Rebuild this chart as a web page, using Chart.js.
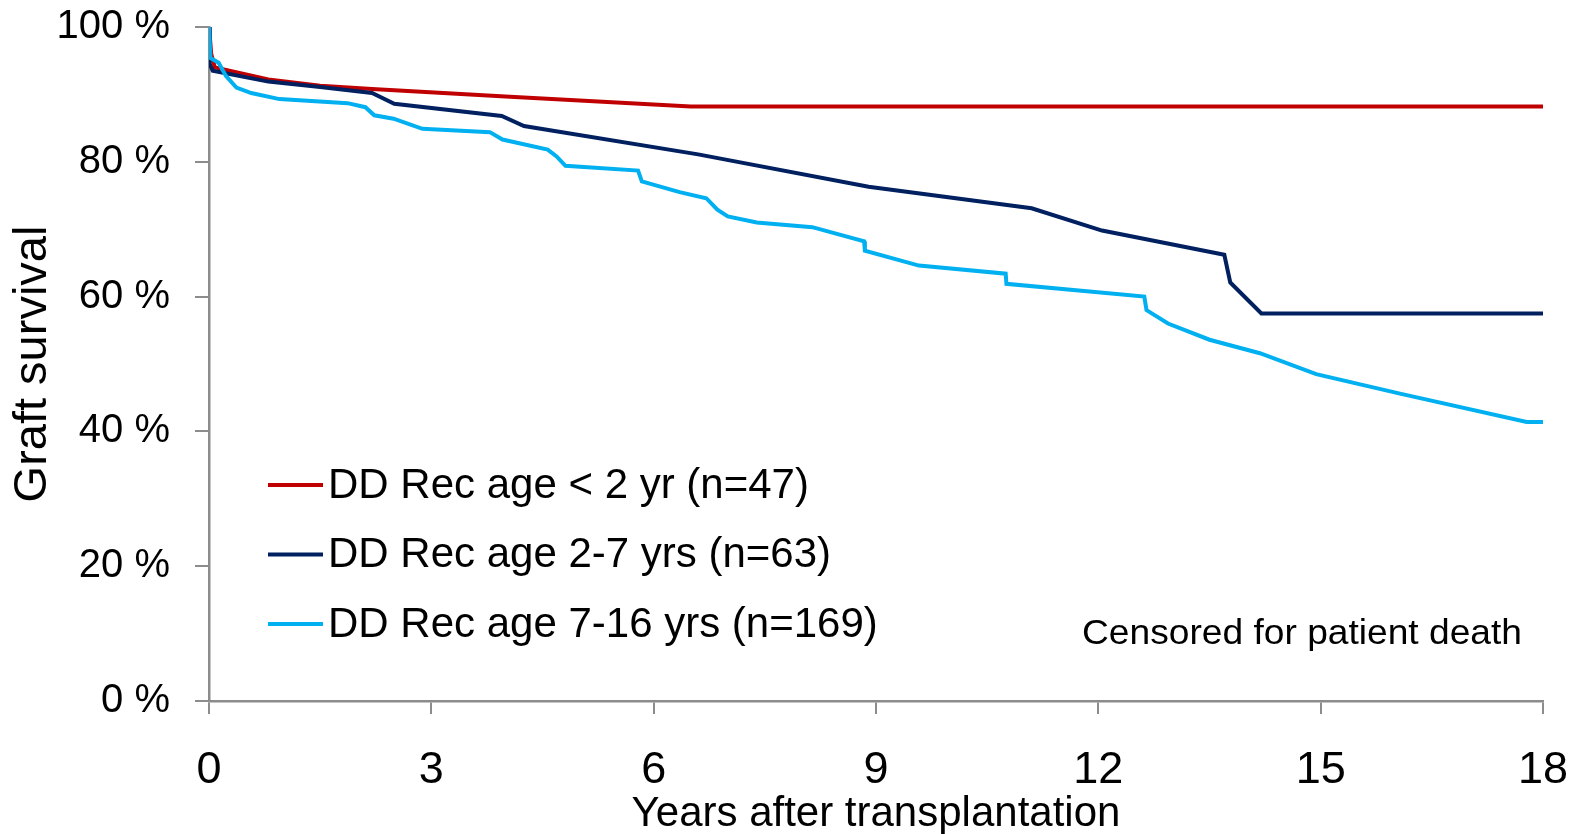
<!DOCTYPE html>
<html>
<head>
<meta charset="utf-8">
<script src="https://cdn.jsdelivr.net/npm/chart.js@4.4.1/dist/chart.umd.min.js"></script>
<style>
html, body { margin: 0; padding: 0; background: #fff; }
#wrap { width: 1580px; height: 834px; position: relative; }
</style>
</head>
<body>
<div id="wrap"><canvas id="graph"></canvas></div>
<script>
// Series names and colours
var seriesLabels = ['DD Rec age < 2 yr (n=47)', 'DD Rec age 2-7 yrs (n=63)', 'DD Rec age 7-16 yrs (n=169)'];
var seriesColors = ['#C00000', '#002060', '#00B0F0'];
var noteText = 'Censored for patient death';
// Tick values
var xTicks = [0, 3, 6, 9, 12, 15, 18];
var yTicks = [0, 20, 40, 60, 80, 100];
// Recipient age < 2 yr: years after transplantation / graft survival %
var under2Years = [0, 0.03, 0.08, 0.8, 1.5, 2.2, 4.0, 6.5, 18];
var under2Survival = [100, 96, 94.0, 92.2, 91.3, 90.8, 89.7, 88.2, 88.2];
// Recipient age 2-7 yrs
var age2to7Years = [0, 0.01, 0.05, 0.8, 1.5, 2.2, 2.5, 3.95, 4.25, 6.6, 8.9, 11.1, 12.05, 13.7, 13.78, 14.2, 18];
var age2to7Survival = [100, 94.5, 93.5, 91.9, 91.1, 90.2, 88.6, 86.8, 85.3, 81.1, 76.3, 73.1, 69.8, 66.2, 62.1, 57.5, 57.5];
// Recipient age 7-16 yrs
var age7to16Years = [0, 0.02, 0.13, 0.23, 0.37, 0.57, 0.95, 1.87, 2.11, 2.23, 2.49, 2.88, 3.79, 3.96, 4.57, 4.69, 4.81, 5.79, 5.84, 6.35, 6.71, 6.86, 7.0, 7.39, 8.14, 8.84, 8.85, 9.58, 10.75, 10.76, 12.62, 12.65, 12.94, 13.5, 14.18, 14.94, 16.07, 17.78, 18];
var age7to16Survival = [100, 95.4, 94.7, 92.7, 91.0, 90.2, 89.3, 88.7, 88.1, 86.9, 86.4, 84.9, 84.4, 83.3, 81.8, 80.8, 79.4, 78.7, 77.1, 75.5, 74.6, 72.9, 71.9, 71.0, 70.3, 68.2, 66.8, 64.6, 63.4, 61.9, 60.0, 58.0, 56.0, 53.6, 51.6, 48.5, 45.6, 41.4, 41.4];

var FONT = '"Liberation Sans", Arial, sans-serif';

// Build {x, y} points from the arrays
function toPoints(xs, ys) {
    return xs.map(function (x, i) { return { x: x, y: ys[i] }; });
}

var allYears = [under2Years, age2to7Years, age7to16Years];
var allSurvival = [under2Survival, age2to7Survival, age7to16Survival];
var drawOrder = [2, 1, 0];
var datasets = [];
seriesLabels.forEach(function (label, i) {
    datasets.push({
        label: label,
        data: toPoints(allYears[i], allSurvival[i]),
        borderColor: seriesColors[i],
        backgroundColor: seriesColors[i],
        borderWidth: 4,
        pointRadius: 0,
        tension: 0,
        fill: false,
        order: drawOrder[i]
    });
});

// Legend and note drawn inside the plot area
var legendNote = {
    id: 'legendNote',
    afterDatasetsDraw: function (chart) {
        var ctx = chart.ctx, a = chart.chartArea;
        ctx.save();
        ctx.font = '42px ' + FONT;
        ctx.textBaseline = 'middle';
        ctx.fillStyle = '#000';
        seriesLabels.forEach(function (label, i) {
            var y = a.top + 458 + i * 69.5;
            ctx.strokeStyle = seriesColors[i];
            ctx.lineWidth = 4;
            ctx.beginPath();
            ctx.moveTo(a.left + 59, y);
            ctx.lineTo(a.left + 114, y);
            ctx.stroke();
            ctx.fillText(label, a.left + 119, y + 1);
        });
        ctx.font = '35px ' + FONT;
        ctx.textBaseline = 'alphabetic';
        var w = ctx.measureText(noteText).width;
        ctx.translate(a.right - 21 - 440, a.top + 617);
        ctx.scale(440 / w, 1);
        ctx.fillText(noteText, 0, 0);
        ctx.restore();
    }
};

var config = {
    type: 'line',
    data: { datasets: datasets },
    options: {
        responsive: true,
        maintainAspectRatio: false,
        animation: false,
        layout: { padding: { left: 0, right: 37, top: 27, bottom: 0 } },
        plugins: {
            legend: { display: false },
            tooltip: { enabled: false }
        },
        scales: {
            x: {
                type: 'linear',
                min: 0,
                max: 18,
                afterBuildTicks: function (scale) {
                    scale.ticks = xTicks.map(function (v) { return { value: v }; });
                },
                afterFit: function (scale) {
                    scale.height = 133;
                    scale.paddingLeft = 0;
                    scale.paddingRight = 0;
                },
                border: { display: true, color: '#8c8c8c', width: 2.5 },
                grid: { drawOnChartArea: false, drawTicks: true, tickLength: 13, color: '#8c8c8c', lineWidth: 2 },
                ticks: {
                    color: '#000',
                    padding: 30,
                    maxRotation: 0,
                    font: { family: FONT, size: 45 }
                },
                title: {
                    display: true,
                    text: 'Years after transplantation',
                    color: '#000',
                    padding: { top: 0, bottom: -6 },
                    font: { family: FONT, size: 42 }
                }
            },
            y: {
                type: 'linear',
                min: 0,
                max: 100,
                afterBuildTicks: function (scale) {
                    scale.ticks = yTicks.map(function (v) { return { value: v }; });
                },
                afterFit: function (scale) {
                    scale.width = 209;
                    scale.paddingTop = 0;
                    scale.paddingBottom = 0;
                },
                border: { display: true, color: '#8c8c8c', width: 2.5 },
                grid: { drawOnChartArea: false, drawTicks: true, tickLength: 14, color: '#8c8c8c', lineWidth: 2 },
                ticks: {
                    color: '#000',
                    padding: 25,
                    font: { family: FONT, size: 40 },
                    callback: function (v) { return v + ' %'; }
                },
                title: {
                    display: true,
                    text: 'Graft survival',
                    color: '#000',
                    padding: { top: 5, bottom: 0 },
                    font: { family: FONT, size: 47 }
                }
            }
        }
    },
    plugins: [legendNote]
};

new Chart(document.getElementById('graph'), config);
</script>
</body>
</html>
